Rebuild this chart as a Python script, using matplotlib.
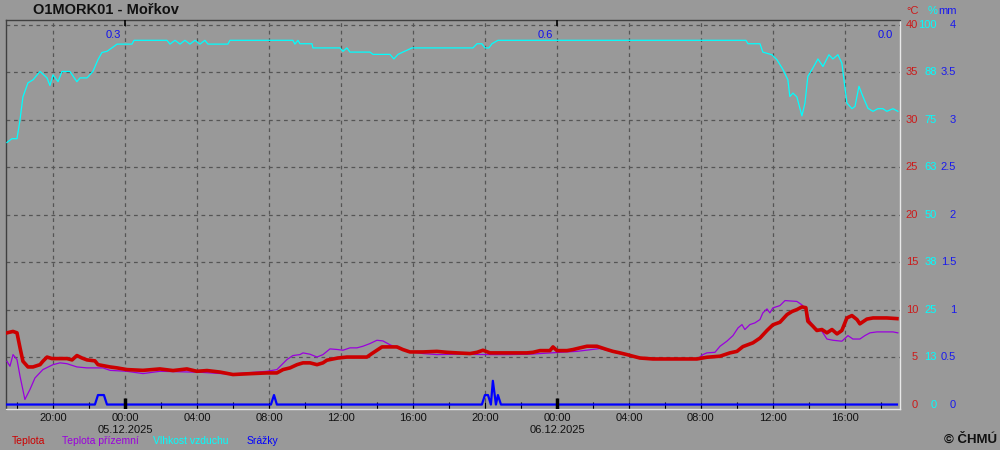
import matplotlib
matplotlib.use("Agg")
import matplotlib.pyplot as plt
from matplotlib.transforms import blended_transform_factory
import numpy as np

plt.rcParams['font.family'] = ['Liberation Sans', 'DejaVu Sans']

# ---------------- data (time in hours since 04.12.2025 00:00) ----------------
temp_t = [17.44, 17.78, 18.0, 18.17, 18.33, 18.61, 18.89, 19.28, 19.44, 19.67, 19.94, 20.78, 21.06,
          21.33, 21.61, 21.89, 22.33, 22.5, 23.17, 23.56, 24.11, 25.0, 25.94, 26.67, 27.44, 28.0,
          28.56, 29.28, 30.0, 30.94, 31.89, 32.44, 32.78, 33.17, 33.56, 33.89, 34.28, 34.67, 35.0,
          35.22, 35.56, 35.83, 36.33, 37.44, 37.72, 38.0, 38.28, 39.11, 39.44, 39.83, 40.56, 41.33,
          41.89, 42.44, 43.17, 43.56, 43.89, 44.28, 45.22, 46.33, 46.67, 47.06, 47.61, 47.78, 48.0,
          48.56, 48.89, 49.28, 49.67, 50.22, 50.78, 51.11, 51.5, 51.89, 52.22, 52.61, 53.33, 55.78,
          56.33, 57.06, 57.61, 58.0, 58.33, 58.89, 59.28, 59.67, 60.0, 60.39, 60.78, 61.06, 61.33,
          61.61, 61.83, 61.94, 62.22, 62.44, 62.72, 63.0, 63.28, 63.56, 63.83, 64.11, 64.39, 64.67,
          64.83, 65.22, 65.56, 66.33, 66.89]
temp_v = [7.55, 7.7, 7.55, 5.97, 4.56, 3.96, 3.96, 4.2, 4.56, 5.0, 4.84, 4.84, 4.7,
          5.16, 4.9, 4.7, 4.6, 4.2, 3.96, 3.86, 3.68, 3.6, 3.75, 3.58, 3.75, 3.5,
          3.58, 3.42, 3.16, 3.25, 3.33, 3.33, 3.68, 3.86, 4.2, 4.39, 4.39, 4.2, 4.39,
          4.67, 4.8, 4.9, 5.0, 5.0, 5.37, 5.72, 6.07, 6.07, 5.79, 5.54, 5.54, 5.6,
          5.5, 5.44, 5.37, 5.5, 5.72, 5.44, 5.44, 5.44, 5.5, 5.68, 5.68, 6.07, 5.68,
          5.68, 5.79, 5.97, 6.14, 6.14, 5.79, 5.6, 5.44, 5.26, 5.09, 4.9, 4.8, 4.8,
          4.98, 5.09, 5.44, 5.6, 6.1, 6.5, 7.0, 7.8, 8.4, 8.67, 9.47, 9.8, 10.0,
          10.28, 10.2, 8.77, 8.25, 7.8, 7.9, 7.55, 7.9, 7.44, 7.8, 9.12, 9.37, 8.95,
          8.5, 9.0, 9.12, 9.12, 9.05]

ground_t = [17.44, 17.61, 17.78, 18.0, 18.17, 18.44, 18.72, 19.0, 19.44, 20.0, 20.39, 20.78, 21.33,
            21.89, 22.78, 23.17, 24.11, 25.0, 25.94, 27.06, 28.17, 29.83, 31.89, 32.44, 33.0, 33.33,
            33.72, 33.89, 34.28, 34.67, 35.0, 35.39, 35.78, 36.11, 36.5, 36.89, 37.22, 37.61, 38.0,
            38.33, 38.72, 39.11, 39.67, 40.56, 41.33, 42.44, 44.28, 45.22, 46.5, 48.17, 49.11, 50.39,
            51.5, 53.17, 55.78, 56.11, 56.33, 56.78, 57.06, 57.44, 57.78, 58.06, 58.28, 58.44, 58.72,
            59.0, 59.28, 59.44, 59.67, 59.83, 60.0, 60.39, 60.67, 61.33, 61.61, 61.83, 62.06, 62.33,
            62.72, 63.0, 63.33, 63.83, 64.17, 64.44, 64.83, 65.11, 65.39, 65.78, 66.67, 66.94]
ground_v = [4.56, 4.03, 5.26, 4.74, 2.98, 0.53, 1.58, 2.8, 3.68, 4.2, 4.39, 4.3, 3.96,
            3.86, 3.86, 3.6, 3.5, 3.26, 3.5, 3.45, 3.4, 3.2, 3.5, 3.68, 4.74, 5.16,
            5.26, 5.44, 5.3, 5.0, 5.26, 5.86, 5.8, 5.72, 5.97, 5.97, 6.14, 6.42, 6.77,
            6.7, 6.3, 5.97, 5.6, 5.37, 5.26, 5.3, 5.26, 5.26, 5.3, 5.5, 5.6, 5.9,
            5.35, 4.75, 4.75, 5.26, 5.44, 5.5, 6.14, 6.67, 7.26, 8.07, 8.42, 7.9, 8.42,
            8.6, 8.95, 9.65, 10.07, 9.65, 10.18, 10.42, 10.95, 10.86, 10.5, 10.0, 8.77, 8.07,
            7.72, 6.9, 6.77, 6.67, 7.26, 6.9, 6.9, 7.26, 7.55, 7.65, 7.65, 7.55]

hum_t = [17.44, 17.72, 18.0, 18.17, 18.33, 18.61, 18.89, 19.28, 19.67, 19.83, 20.0, 20.28, 20.5,
         20.94, 21.33, 21.5, 21.89, 22.22, 22.5, 22.72, 23.0, 23.33, 23.56, 24.39, 24.5, 26.33,
         26.5, 26.78, 27.06, 27.33, 27.61, 27.89, 28.17, 28.44, 28.61, 29.72, 29.83, 33.33, 33.44,
         33.61, 33.72, 34.39, 34.44, 35.94, 36.11, 36.33, 36.5, 37.61, 37.78, 38.72, 38.94, 39.17,
         39.44, 39.72, 39.94, 43.33, 43.56, 43.83, 44.0, 44.22, 44.39, 44.72, 58.5, 58.61, 59.28,
         59.44, 59.94, 60.22, 60.56, 60.83, 60.94, 61.11, 61.33, 61.61, 61.78, 61.94, 62.22, 62.5,
         62.78, 63.11, 63.33, 63.61, 63.83, 64.11, 64.39, 64.56, 64.78, 65.0, 65.28, 65.56, 65.83,
         66.11, 66.33, 66.67, 66.94]
hum_v = [69, 70, 70, 75, 81, 84.7, 85.5, 87.7, 86, 84, 86.8, 85, 87.7,
         87.7, 85, 86, 86, 87.7, 90.8, 92.7, 93, 94.1, 94.9, 94.9, 95.9, 95.9,
         94.9, 95.9, 94.9, 95.9, 94.9, 95.9, 94.9, 95.9, 94.9, 94.9, 95.9, 95.9, 94.9,
         95.9, 95, 95, 93.9, 93.9, 93, 93.9, 92.8, 92.8, 92.2, 92.2, 91, 92.2,
         92.8, 93.4, 93.9, 93.9, 95, 95, 93.9, 93.9, 95, 95.9, 95.9, 95, 95,
         92.8, 92.1, 90.8, 88.2, 85.5, 81.1, 82, 81, 76, 79.4, 86.4, 88.6, 91,
         89, 92.1, 91, 92.1, 89.9, 79.4, 77.9, 78.5, 83.8, 81.1, 78, 77.2, 77.9,
         77.9, 77.2, 77.9, 77.2]

rain_t = [17.44, 22.33, 22.5, 22.67, 22.83, 23.0, 32.11, 32.28, 32.44, 43.83, 44.0, 44.17, 44.33,
          44.44, 44.61, 44.72, 44.89, 66.89]
rain_v = [0, 0, 0.1, 0.1, 0.1, 0, 0, 0.1, 0, 0, 0.1, 0.1, 0, 0.25, 0, 0.1, 0, 0]

day_sum_labels = ['0.3', '0.6', '0.0']
day_sum_pos = [24.0, 48.0, 66.89]

xtick_hours = [20, 24, 28, 32, 36, 40, 44, 48, 52, 56, 60, 64]
xtick_labels = ['20:00', '00:00\n05.12.2025', '04:00', '08:00', '12:00', '16:00',
                '20:00', '00:00\n06.12.2025', '04:00', '08:00', '12:00', '16:00']
midnights = [24, 48]

c_ticks = [0, 5, 10, 15, 20, 25, 30, 35, 40]
h_labels = ['0', '13', '25', '38', '50', '63', '75', '88', '100']
mm_labels = ['0', '0.5', '1', '1.5', '2', '2.5', '3', '3.5', '4']

legend_names = ['Teplota', 'Teplota přízemní', 'Vlhkost vzduchu', 'Srážky']

# ---------------- styling ----------------
BG = '#999999'
RED = '#cc0000'
PURPLE = '#9900dd'
CYAN = '#00ffff'
BLUE = '#0000ff'

fig = plt.figure(figsize=(10, 4.5), dpi=100, facecolor=BG)
ax = fig.add_axes([0.006, 1 - 409 / 450, 0.894, (409 - 20) / 450])
ax.set_facecolor(BG)

HUM_SCALE = 40 / 100.0   # % -> °C axis
RAIN_SCALE = 40 / 4.0    # mm -> °C axis

ax.set_xlim(17.39, 67.06)
ax.set_ylim(-0.47, 40.5)

# grid
for y in c_ticks[1:]:
    ax.axhline(y, color='#555555', lw=0.9, ls=(0, (3, 3)), zorder=1)
for x in xtick_hours:
    ax.axvline(x, color='#555555', lw=0.9, ls=(0, (3, 3)), zorder=1)

# series
ax.plot(hum_t, np.array(hum_v) * HUM_SCALE, color=CYAN, lw=0.9, zorder=3)
ax.plot(ground_t, ground_v, color=PURPLE, lw=0.9, zorder=4)
ax.plot(temp_t, temp_v, color=RED, lw=2.6, zorder=5)
ax.plot(rain_t, np.array(rain_v) * RAIN_SCALE, color=BLUE, lw=1.6, zorder=6)

# daily precipitation sums
for lab, pos in zip(day_sum_labels, day_sum_pos):
    ax.annotate(lab, xy=(pos, 38.9), xytext=(-3, 0), textcoords='offset points',
                ha='right', va='center', color='#1010ee', fontsize=8)

# spines
for s in ['left', 'top']:
    ax.spines[s].set_color('#404040')
    ax.spines[s].set_linewidth(1.0)
for s in ['right', 'bottom']:
    ax.spines[s].set_color('#e8e8e8')
    ax.spines[s].set_linewidth(1.0)

# x ticks
ax.set_xticks(xtick_hours)
ax.set_xticklabels(xtick_labels, fontsize=8, color='#111111', linespacing=1.25)
ax.set_xticks(np.arange(18, 67, 2), minor=True)
ax.tick_params(axis='x', which='both', direction='in', length=5, width=0.8,
               color='black', pad=3)
ax.set_yticks([])
trans_ax = blended_transform_factory(ax.transData, ax.transAxes)
ax.vlines(midnights, 0, 0.028, transform=trans_ax, color='black', lw=2.5, zorder=7)
ax.vlines(midnights, 0.985, 1.0, transform=trans_ax, color='black', lw=1.2, zorder=7)

# right-hand scales
tr = blended_transform_factory(fig.transFigure, ax.transData)
for y, hl, ml in zip(c_ticks, h_labels, mm_labels):
    ax.text(0.918, y, str(y), transform=tr, ha='right', va='center', fontsize=8, color='#cc1a1a')
    ax.text(0.937, y, hl, transform=tr, ha='right', va='center', fontsize=8, color=CYAN)
    ax.text(0.956, y, ml, transform=tr, ha='right', va='center', fontsize=8, color='#1a1aee')
fig.text(0.919, 1 - 11 / 450, '°C', ha='right', va='center', fontsize=8, color='#cc1a1a')
fig.text(0.937, 1 - 11 / 450, '%', ha='right', va='center', fontsize=8, color=CYAN)
fig.text(0.957, 1 - 11 / 450, 'mm', ha='right', va='center', fontsize=8, color='#1a1aee')

# title
fig.text(0.033, 1 - 10 / 450, 'O1MORK01 - Mořkov', ha='left', va='center',
         fontsize=10.5, fontweight='bold', color='#111111')

# legend texts
leg_x = [12, 62, 153, 247]
leg_c = [RED, PURPLE, CYAN, BLUE]
for name, xp, c in zip(legend_names, leg_x, leg_c):
    fig.text(xp / 1000, 1 - 441 / 450, name, ha='left', va='center', fontsize=7.5, color=c)

fig.text(0.997, 1 - 440 / 450, '© ČHMÚ', ha='right', va='center', fontsize=9.5,
         fontweight='bold', color='#111111')

fig.savefig('out.png', dpi=100, facecolor=BG)
